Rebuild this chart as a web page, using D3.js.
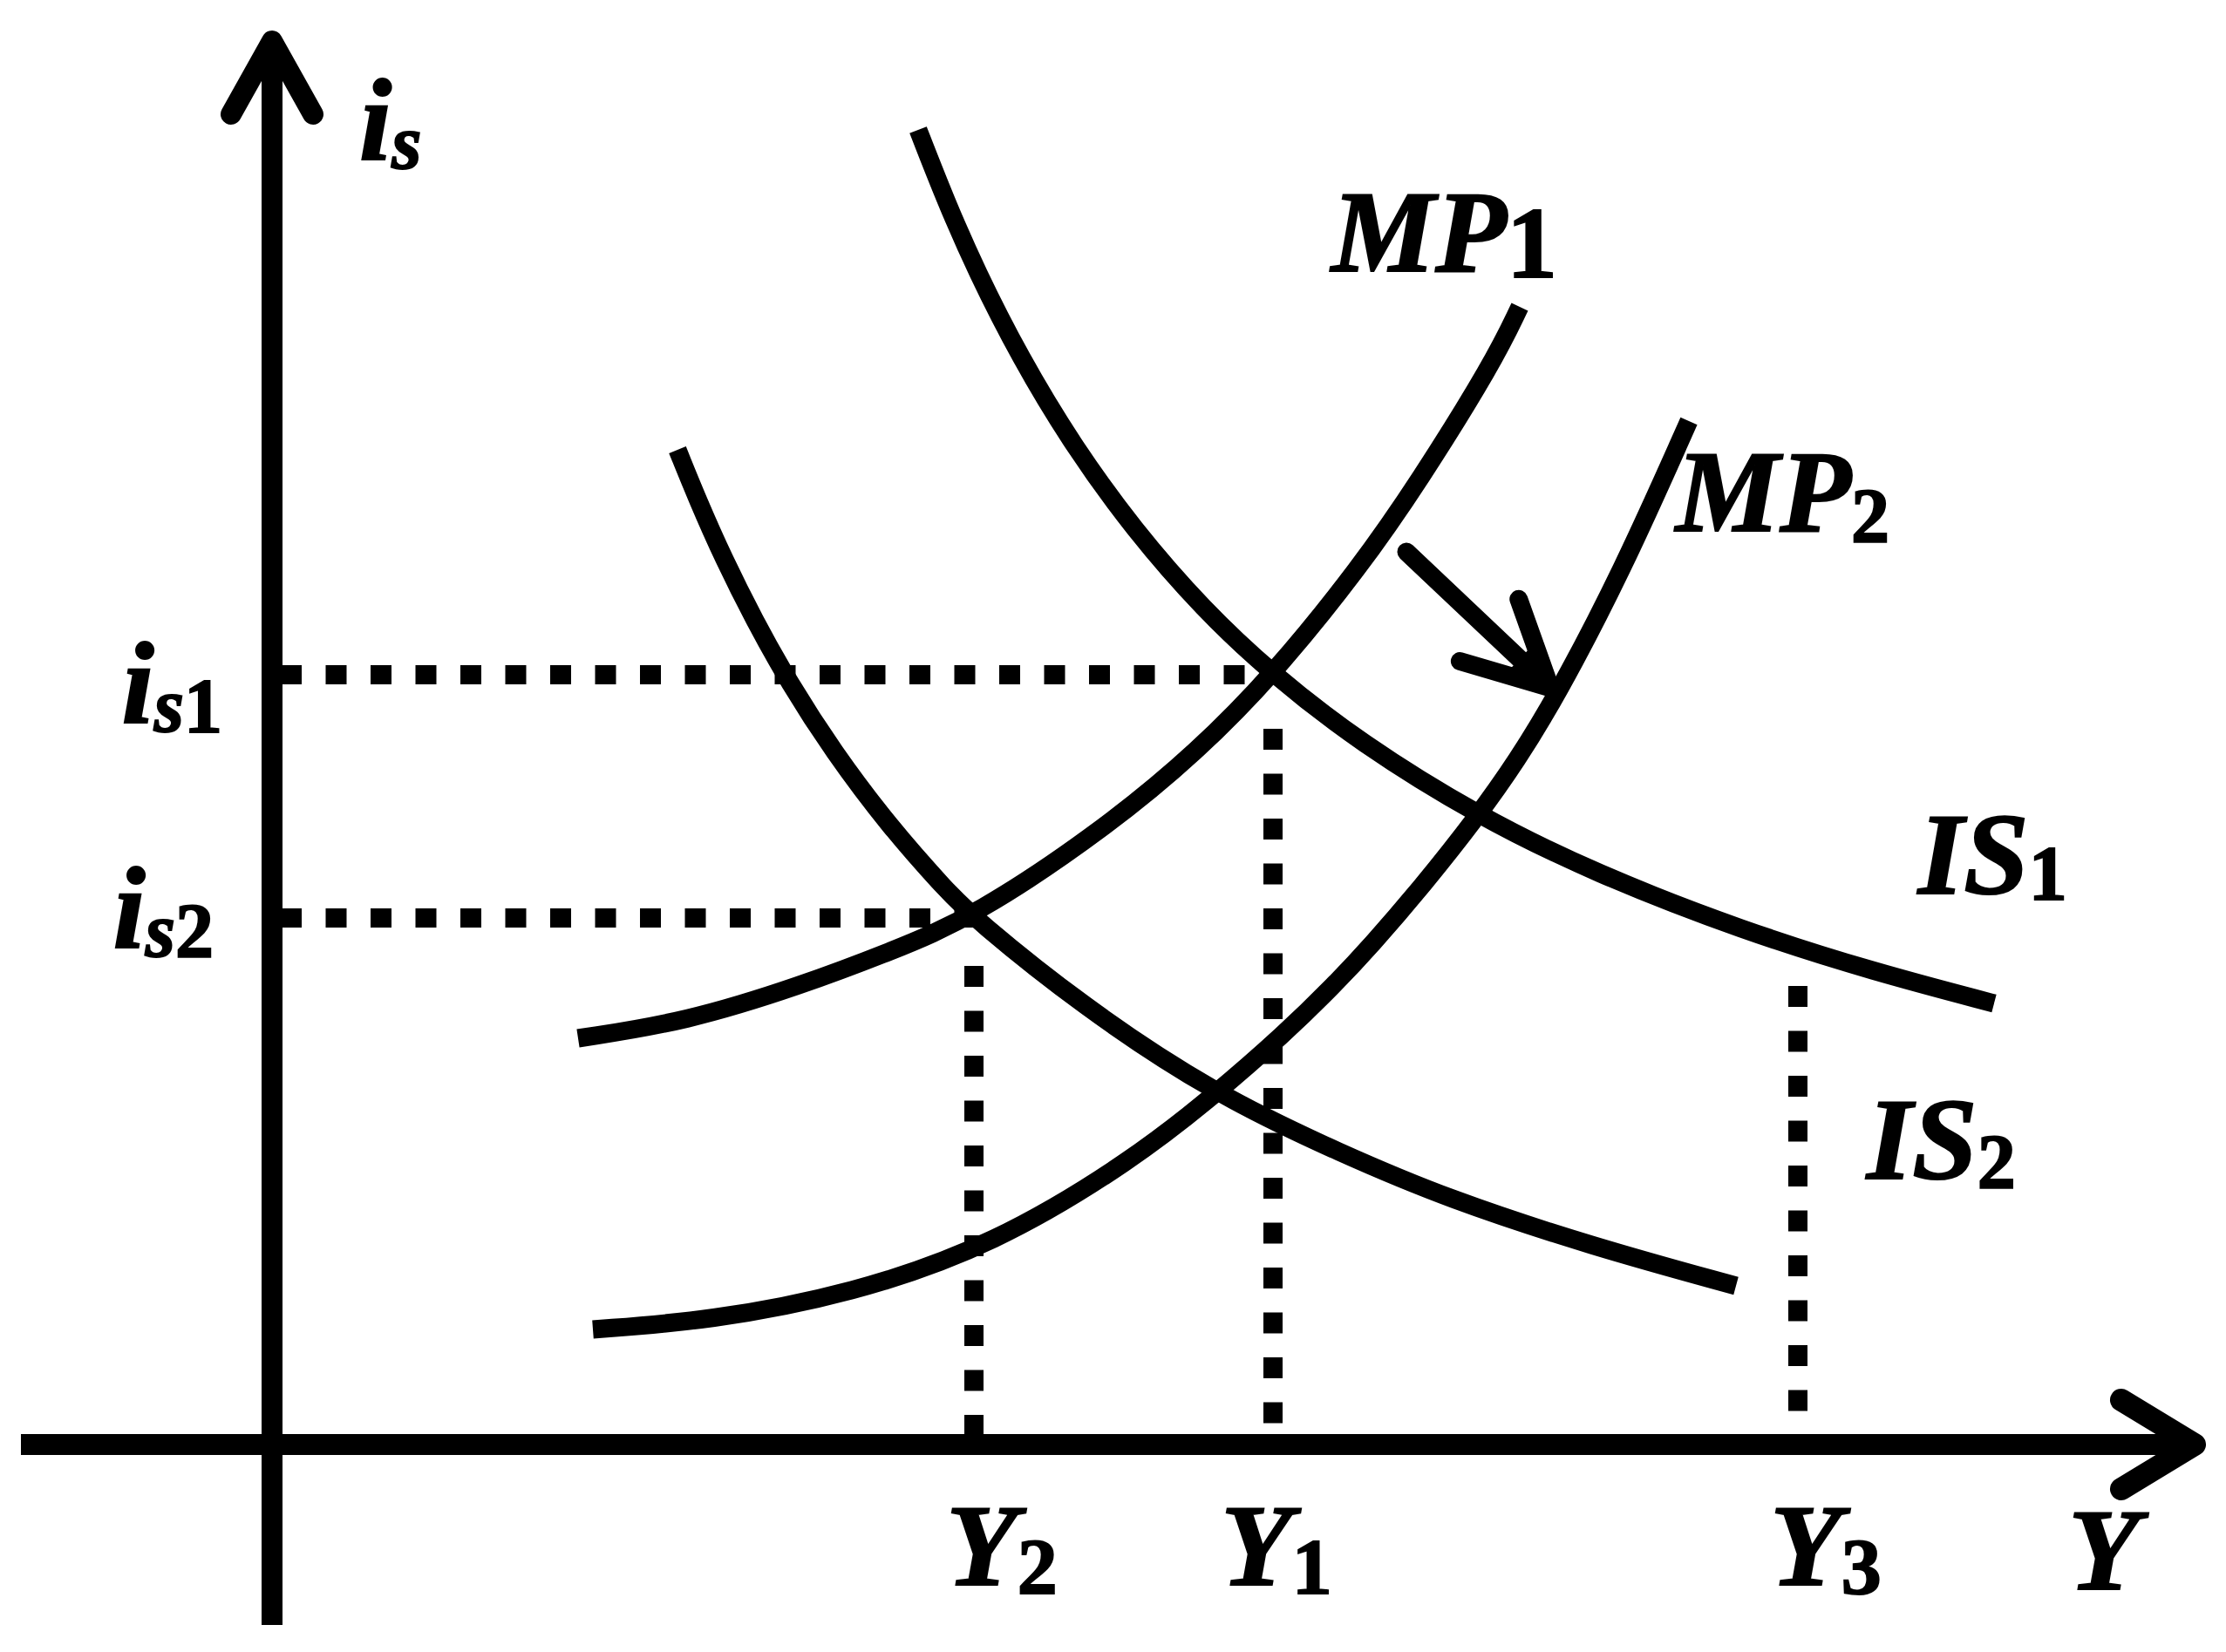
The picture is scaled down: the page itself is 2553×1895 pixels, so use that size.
<!DOCTYPE html>
<html><head><meta charset="utf-8">
<script src="https://cdn.jsdelivr.net/npm/d3@7"></script>
<style>html,body{margin:0;padding:0;background:#fff;} svg{display:block;}</style>
</head><body>
<script>
// ---- data (chart units: origin at axes crossing) ----
const IS1 = [[74.1,150.8],[77.3,142.6],[80.8,134.6],[85.8,124.7],[91.8,114.7],[98.8,105.0],[106.8,95.8],[114.8,88.3],[124.8,80.5],[138.3,72.1],[151.8,65.5],[168.8,58.9],[183.8,54.2],[197.5,50.6]];
const IS2 = [[46.5,114.1],[48.8,108.4],[51.8,101.6],[55.3,94.6],[59.3,87.4],[64.3,79.6],[70.8,70.9],[77.5,63.4],[80.5,60.4],[92.8,50.4],[108.1,40.2],[122.8,33.3],[134.8,28.2],[151.5,22.7],[167.9,18.2]];
const MP1 = [[35.1,46.6],[47.5,48.5],[60.8,52.7],[70.8,56.5],[80.5,60.5],[96.1,71.1],[106.1,79.5],[114.8,88.3],[124.8,100.7],[131.5,110.4],[140.1,124.2],[143.1,130.5]];
const MP2 = [[36.8,13.2],[50.2,14.2],[66.5,17.3],[82.8,22.9],[98.8,32.7],[108.1,40.1],[116.1,47.1],[121.8,52.7],[126.1,57.3],[131.8,63.9],[138.3,72.1],[142.8,78.5],[147.3,85.8],[154.8,100.1],[162.5,117.4]];
const curveNames = ["MP","MP","IS","IS"];
const curveSubs = ["1","2","1","2"];
const rateSubs = ["1","2"];
const rateValues = [88.3, 60.4];
const rateGuideEnd = [114.8, 80.5];
const outputSubs = ["2","1","3"];
const outputValues = [80.5, 114.8, 175.0];
const outputGuideTop = [54.9, 82.1, 52.6];
const shiftArrow = [[130.1,102.4],[146.6,86.8]];
const xAxisExtent = [-28.8, 220.5];
const yAxisExtent = [-20.7, 161.0];

// ---- layout ----
const W = 2553, H = 1895;
const svg = d3.select("body").append("svg").attr("width", W).attr("height", H);
svg.append("rect").attr("width", W).attr("height", H).attr("fill", "#fff");
const x = d3.scaleLinear().domain([0, 220]).range([312, 2512]);
const y = d3.scaleLinear().domain([0, 160]).range([1657, 57]);
const line = d3.line().x(d => x(d[0])).y(d => y(d[1])).curve(d3.curveBasis);

const FONT = "'Liberation Serif','Times New Roman',serif";
const MAIN = 134, SUB = 88;

// dotted guides
function applyAttrs(sel, o){ for (const k in o) sel.attr(k, o[k]); return sel; }
const dot = {stroke: "#000", "stroke-width": 22, "stroke-dasharray": "24 27.5", fill: "none"};
rateValues.forEach((v, i) => {
  applyAttrs(svg.append("line")
    .attr("x1", x(0) + 10).attr("x2", x(rateGuideEnd[i]))
    .attr("y1", y(v)).attr("y2", y(v)), dot);
});
outputValues.forEach((v, i) => {
  applyAttrs(svg.append("line")
    .attr("x1", x(v)).attr("x2", x(v))
    .attr("y1", y(outputGuideTop[i])).attr("y2", y(0)), dot);
});

// curves
[MP1, MP2, IS1, IS2].forEach(c => {
  svg.append("path").attr("d", line(c)).attr("fill", "none")
    .attr("stroke", "#000").attr("stroke-width", 21).attr("stroke-linecap", "butt");
});

// axes
const AX = 24, HEAD_L = 84, HEAD_W = 47;
const yTop = y(yAxisExtent[1]), yBot = y(yAxisExtent[0]);
const xLeft = x(xAxisExtent[0]), xRight = x(xAxisExtent[1]);
svg.append("line").attr("x1", x(0)).attr("x2", x(0)).attr("y1", yBot).attr("y2", yTop)
  .attr("stroke", "#000").attr("stroke-width", AX);
svg.append("path").attr("d", `M${x(0)-HEAD_W},${yTop+HEAD_L}L${x(0)},${yTop}L${x(0)+HEAD_W},${yTop+HEAD_L}`)
  .attr("fill", "none").attr("stroke", "#000").attr("stroke-width", AX)
  .attr("stroke-linecap", "round").attr("stroke-linejoin", "round");
svg.append("line").attr("x1", xLeft).attr("x2", xRight).attr("y1", y(0)).attr("y2", y(0))
  .attr("stroke", "#000").attr("stroke-width", AX);
svg.append("path").attr("d", `M${xRight-HEAD_L},${y(0)-HEAD_W-4}L${xRight},${y(0)}L${xRight-HEAD_L},${y(0)+HEAD_W+4}`)
  .attr("fill", "none").attr("stroke", "#000").attr("stroke-width", AX + 2)
  .attr("stroke-linecap", "round").attr("stroke-linejoin", "round");

// shift arrow
{
  const x0 = x(shiftArrow[0][0]), y0 = y(shiftArrow[0][1]);
  const x1 = x(shiftArrow[1][0]), y1 = y(shiftArrow[1][1]);
  const ang = Math.atan2(y1 - y0, x1 - x0);
  const L = 108, a = 27 * Math.PI / 180;
  const w1 = [x1 - L * Math.cos(ang - a), y1 - L * Math.sin(ang - a)];
  const w2 = [x1 - L * Math.cos(ang + a), y1 - L * Math.sin(ang + a)];
  const s = 0.45;
  svg.append("path")
    .attr("d", `M${x1},${y1}L${x1+(w1[0]-x1)*s},${y1+(w1[1]-y1)*s}L${x1+(w2[0]-x1)*s},${y1+(w2[1]-y1)*s}Z`)
    .attr("fill", "#000").attr("stroke", "#000").attr("stroke-width", 10).attr("stroke-linejoin", "round");
  svg.append("path")
    .attr("d", `M${x0},${y0}L${x1},${y1}M${w1[0]},${w1[1]}L${x1},${y1}L${w2[0]},${w2[1]}`)
    .attr("fill", "none").attr("stroke", "#000").attr("stroke-width", 21)
    .attr("stroke-linecap", "round").attr("stroke-linejoin", "round");
}

// labels: parts = [[text, size, italic, dy], ...]
function label(px, py, parts, anchor) {
  const t = svg.append("text").attr("x", px).attr("y", py)
    .attr("text-anchor", anchor || "start")
    .attr("font-family", FONT).attr("font-weight", "bold")
    .attr("fill", "#000").attr("stroke", "#000").attr("stroke-width", 2);
  parts.forEach(p => {
    const s = t.append("tspan").attr("font-size", p[1]).attr("font-style", p[2] ? "italic" : "normal").text(p[0]);
    if (p[3]) s.attr("dy", p[3]);
  });
  return t;
}
// vertical axis title
label(x(0) + 100, y(yAxisExtent[1]) + 136, [["i", MAIN, true], ["s", SUB, true, 10]]);
// rate levels
const rateDy = [55, 34], rateDx = [-57, -67];
rateValues.forEach((v, i) => label(x(0) + rateDx[i], y(v) + rateDy[i],
  [["i", MAIN, true], ["s", SUB, true, 10], [rateSubs[i], SUB, false]], "end"));
// output levels
const outDx = [-32, -60, -32];
outputValues.forEach((v, i) => label(x(v) + outDx[i], y(0) + 161,
  [["Y", MAIN, true], [outputSubs[i], SUB + 4, false, 10]]));
label(xRight - 145, y(0) + 166, [["Y", MAIN, true]]);
// curve labels, anchored to curve ends
const curves = [MP1, MP2, IS1, IS2];
const endOff = [[-216, -41], [-15, 126], [-87, -126], [150, -123]];
const subSz = [116, SUB, SUB, SUB], subDys = [7, 12, 6, 10];
curves.forEach((c, i) => {
  const e = c[c.length - 1];
  label(x(e[0]) + endOff[i][0], y(e[1]) + endOff[i][1],
    [[curveNames[i], MAIN, true], [curveSubs[i], subSz[i], false, subDys[i]]]);
});
</script>
</body></html>
